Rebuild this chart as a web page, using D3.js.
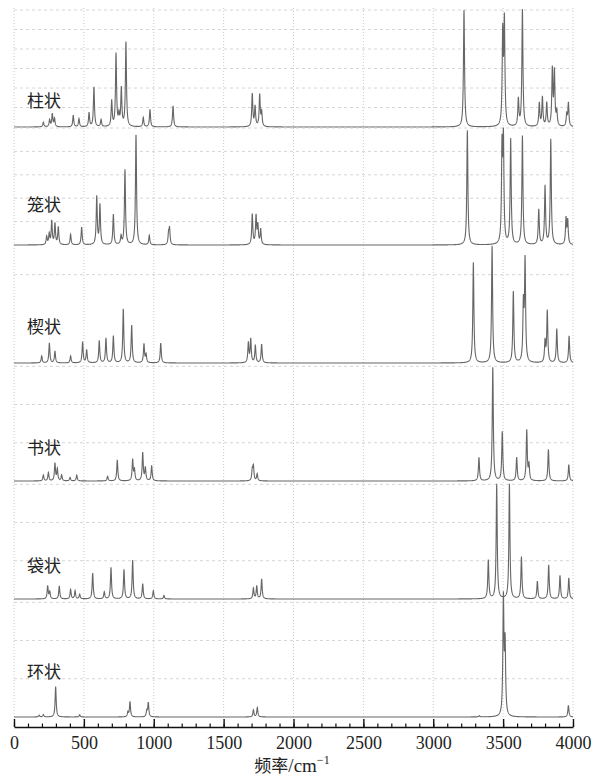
<!DOCTYPE html>
<html>
<head>
<meta charset="utf-8">
<script src="https://cdn.jsdelivr.net/npm/d3@7"></script>
<style>
  body { margin: 0; background: #fff; }
</style>
</head>
<body>
<div class="canvas"></div>
<script>
/* Data: peak lists [frequency cm-1, relative intensity] */
var shapes = ["柱状", "笼状", "楔状", "书状", "袋状", "环状"];
var xTicks = [0, 500, 1000, 1500, 2000, 2500, 3000, 3500, 4000];

var peaksColumn = [
  [210, 0.04], [255, 0.06], [274, 0.11], [290, 0.07], [424, 0.1], [465, 0.07],
  [537, 0.12], [572, 0.34], [623, 0.06], [699, 0.22], [730, 0.62], [751, 0.09],
  [768, 0.32], [801, 0.72], [925, 0.08], [973, 0.15], [1138, 0.18],
  [1705, 0.28], [1725, 0.17], [1758, 0.27], [1772, 0.12],
  [3220, 1.0], [3497, 0.78], [3509, 0.88], [3609, 0.23], [3638, 1.0],
  [3759, 0.2], [3781, 0.25], [3812, 0.2], [3852, 0.48], [3867, 0.46],
  [3884, 0.12], [3955, 0.1], [3967, 0.2]
];
var peaksCage = [
  [234, 0.07], [252, 0.09], [270, 0.2], [293, 0.18], [317, 0.15], [405, 0.09],
  [484, 0.15], [592, 0.41], [615, 0.34], [711, 0.26], [766, 0.07], [794, 0.64],
  [873, 0.94], [968, 0.08], [1106, 0.09], [1113, 0.13],
  [1705, 0.26], [1732, 0.24], [1745, 0.16], [1765, 0.13],
  [3244, 0.98], [3492, 0.8], [3502, 0.86], [3554, 0.9], [3638, 0.93],
  [3755, 0.3], [3800, 0.5], [3841, 0.9], [3950, 0.22], [3962, 0.2]
];
var peaksWedge = [
  [198, 0.06], [253, 0.17], [293, 0.1], [405, 0.06], [491, 0.18], [520, 0.11],
  [610, 0.19], [658, 0.21], [711, 0.23], [782, 0.46], [842, 0.32], [930, 0.16],
  [945, 0.07], [1050, 0.17], [1677, 0.17], [1694, 0.2], [1727, 0.15], [1772, 0.16],
  [3287, 0.86], [3421, 1.0], [3573, 0.61], [3645, 0.48], [3657, 0.86],
  [3800, 0.18], [3816, 0.44], [3884, 0.29], [3972, 0.23]
];
var peaksBook = [
  [210, 0.05], [246, 0.07], [293, 0.15], [310, 0.1], [341, 0.05], [401, 0.03],
  [449, 0.05], [670, 0.04], [739, 0.18], [849, 0.18], [862, 0.09], [921, 0.24],
  [940, 0.11], [985, 0.13], [1705, 0.09], [1713, 0.12], [1740, 0.06],
  [3327, 0.2], [3426, 0.97], [3494, 0.42], [3597, 0.2], [3669, 0.43],
  [3685, 0.13], [3824, 0.27], [3970, 0.14]
];
var peaksPocket = [
  [241, 0.11], [256, 0.06], [324, 0.11], [405, 0.08], [437, 0.07], [470, 0.04],
  [563, 0.22], [646, 0.06], [694, 0.27], [787, 0.25], [849, 0.33], [921, 0.13],
  [997, 0.07], [1073, 0.03], [1713, 0.09], [1737, 0.11], [1772, 0.17],
  [3394, 0.33], [3454, 0.98], [3545, 0.98], [3631, 0.36], [3745, 0.15],
  [3826, 0.29], [3907, 0.2], [3970, 0.18]
];
var peaksRing = [
  [180, 0.015], [210, 0.02], [298, 0.26], [470, 0.02], [815, 0.04], [830, 0.13],
  [950, 0.05], [961, 0.12], [1713, 0.06], [1741, 0.08], [3330, 0.01],
  [3502, 1.0], [3514, 0.6], [3967, 0.1]
];
var spectra = [peaksColumn, peaksCage, peaksWedge, peaksBook, peaksPocket, peaksRing];

/* hidden y-axis gridline values of each panel */
var gridValues = [
  [1 / 6, 2 / 6, 3 / 6, 4 / 6, 5 / 6, 1],
  [0.2, 0.4, 0.6, 0.8, 1],
  [0.755],
  [0.327, 0.654, 0.98],
  [0.327, 0.654, 0.98],
  [0.327, 0.654, 0.98]
];

var width = 595;
var height = 776;
var panelHeight = 117;
var halfWidth = 4.5; // lorentzian half width, cm-1
var labelLift = [27, 41, 37, 34, 34, 46];

var svg = d3
  .select(".canvas")
  .append("svg")
  .attr("width", width)
  .attr("height", height);

/* Scales */
var xScale = d3.scaleLinear().domain([0, 4000]).range([14, 573]);
var baseScale = d3.scalePoint().domain(shapes).range([127, 717]);
var axisY = 727;

/* Vertical dotted grid */
svg
  .append("g")
  .selectAll("line")
  .data(xTicks)
  .enter()
  .append("line")
  .attr("x1", (d) => xScale(d))
  .attr("x2", (d) => xScale(d))
  .attr("y1", 8)
  .attr("y2", axisY)
  .attr("stroke", "#cccccc")
  .attr("stroke-width", 1)
  .attr("stroke-dasharray", "1,2");

/* Panels */
var line = d3.line().x((d) => xScale(d[0]));

shapes.forEach(function (name, i) {
  var base = baseScale(name);
  var yScale = d3.scaleLinear().domain([0, 1]).range([base, base - panelHeight]);
  var g = svg.append("g").attr("class", "panel");

  g.selectAll(".grid")
    .data(gridValues[i])
    .enter()
    .append("line")
    .attr("class", "grid")
    .attr("x1", xScale(0))
    .attr("x2", xScale(4000))
    .attr("y1", (d) => yScale(d))
    .attr("y2", (d) => yScale(d))
    .attr("stroke", "#d6d6d6")
    .attr("stroke-dasharray", "3,3");

  // broadened spectrum from the peak list
  var peaks = spectra[i];
  var curve = d3.range(0, 4001, 1).map(function (f) {
    var s = 0;
    peaks.forEach(function (p) {
      var u = (f - p[0]) / halfWidth;
      s += p[1] / (1 + u * u);
    });
    return [f, s];
  });
  line.y((d) => yScale(d[1]));

  g.append("path")
    .attr("d", line(curve))
    .attr("fill", "none")
    .attr("stroke", "#666")
    .attr("stroke-width", 1.1);

  g.append("text")
    .attr("x", 27)
    .attr("y", base - labelLift[i] + 7)
    .attr("font-family", "Noto Sans CJK SC")
    .attr("font-size", 17)
    .attr("fill", "#222")
    .text(name);
});

/* Axis */
var minorAxis = d3
  .axisBottom(xScale)
  .tickValues(d3.range(0, 4001, 100))
  .tickSize(-3.5)
  .tickFormat("");
var majorAxis = d3
  .axisBottom(xScale)
  .tickValues(xTicks)
  .tickFormat(d3.format("d"))
  .tickSizeInner(-8)
  .tickSizeOuter(0)
  .tickPadding(9);

svg
  .append("g")
  .attr("class", "x axis minor")
  .attr("transform", `translate(0, ${axisY})`)
  .call(minorAxis)
  .call((a) => a.select(".domain").remove())
  .selectAll("line")
  .attr("stroke", "#111")
  .attr("stroke-width", 1.2);

var ax = svg
  .append("g")
  .attr("class", "x axis")
  .attr("transform", `translate(0, ${axisY})`)
  .call(majorAxis);
ax.select(".domain").attr("stroke", "#111").attr("stroke-width", 1.6);
ax.selectAll(".tick line").attr("stroke", "#111").attr("stroke-width", 1.4);
ax.selectAll(".tick text")
  .attr("font-family", "Liberation Serif")
  .attr("font-size", 18)
  .attr("fill", "#222");

var title = svg
  .append("text")
  .attr("x", 292)
  .attr("y", 772)
  .attr("text-anchor", "middle")
  .attr("fill", "#222");
title.append("tspan").attr("font-family", "Noto Sans CJK SC").attr("font-size", 17).text("频率");
title.append("tspan").attr("font-family", "Liberation Serif").attr("font-size", 19).text("/cm");
title
  .append("tspan")
  .attr("font-family", "Liberation Serif")
  .attr("font-size", 12)
  .attr("dy", -8)
  .text("−1");
</script>
</body>
</html>
